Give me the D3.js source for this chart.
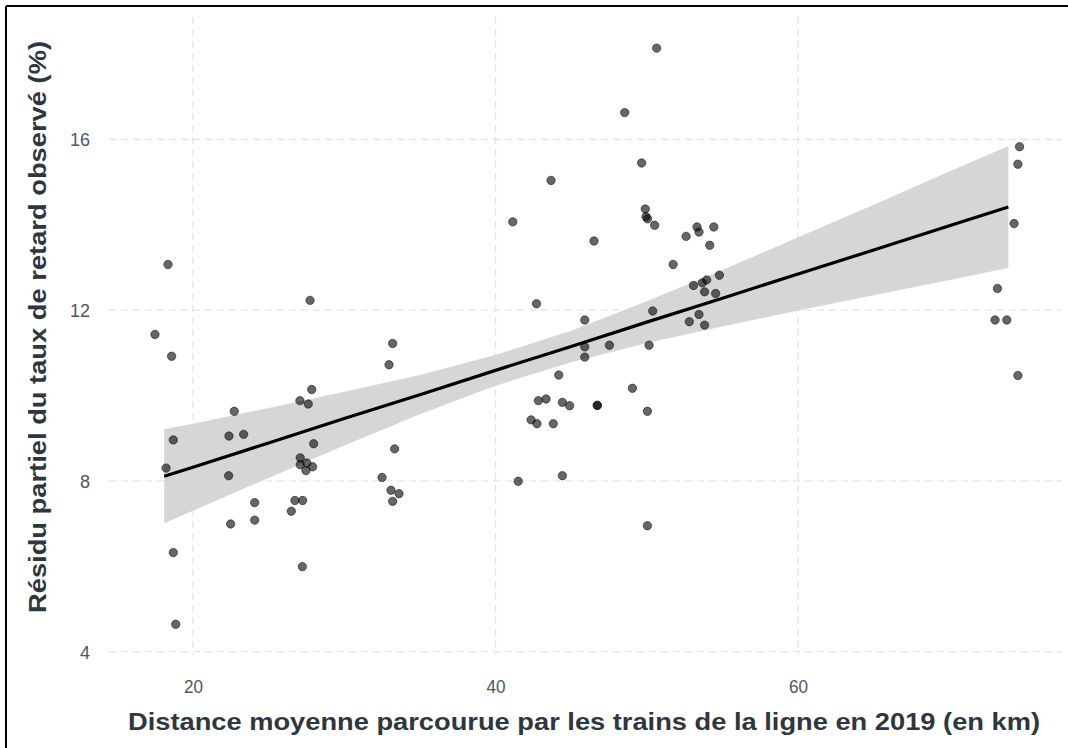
<!DOCTYPE html>
<html>
<head>
<meta charset="utf-8">
<script src="https://cdn.jsdelivr.net/npm/d3@7/dist/d3.min.js"></script>
<style>
  html, body { margin: 0; padding: 0; background: #fff; }
  svg { display: block; }
</style>
</head>
<body>
<svg id="chart" width="1068" height="748"></svg>
<script>
// ---- Data ----
const distanceKm = [
  18.35, 27.74, 17.49, 18.59, 27.85, 27.07, 27.62, 22.73, 18.70, 22.38,
  23.35, 27.98, 18.22, 22.36, 27.09, 27.09, 27.52, 27.91, 27.47, 24.08,
  26.74, 27.25, 26.50, 22.49, 24.08, 18.70, 27.23, 18.86,
  41.14, 46.51, 42.71, 45.90, 33.20, 45.90, 32.96, 45.90, 47.53, 44.18,
  42.83, 43.34, 44.42, 44.90, 46.73, 46.73, 42.35, 42.74, 43.82, 33.33,
  32.50, 41.50, 44.42, 33.09, 33.62, 33.20,
  50.65, 48.54, 49.66, 43.67, 49.90, 49.95, 50.05, 50.52, 53.32, 53.45,
  54.43, 52.60, 54.16, 51.74, 54.80, 53.96, 53.67, 53.09, 53.82, 54.55,
  50.39, 53.45, 52.81, 53.82, 50.15, 49.05, 50.04, 50.04,
  74.64, 74.53, 74.28, 73.18, 73.02, 73.80, 74.53
];
const residuPartiel = [
  13.07, 12.23, 11.43, 10.92, 10.14, 9.88, 9.80, 9.63, 8.96, 9.05,
  9.09, 8.87, 8.30, 8.12, 8.54, 8.38, 8.42, 8.33, 8.24, 7.49,
  7.54, 7.54, 7.29, 6.99, 7.08, 6.32, 5.99, 4.64,
  14.07, 13.62, 12.15, 11.77, 11.22, 11.14, 10.72, 10.90, 11.18, 10.48,
  9.88, 9.92, 9.84, 9.76, 9.77, 9.77, 9.43, 9.34, 9.34, 8.75,
  8.08, 7.99, 8.12, 7.78, 7.70, 7.52,
  18.14, 16.63, 15.45, 15.04, 14.37, 14.19, 14.14, 13.99, 13.95, 13.83,
  13.95, 13.73, 13.52, 13.07, 12.82, 12.71, 12.64, 12.58, 12.43, 12.39,
  11.98, 11.90, 11.73, 11.65, 11.18, 10.17, 9.63, 6.95,
  15.83, 15.42, 14.03, 12.51, 11.77, 11.77, 10.47
];

// Linear fit and its confidence band, read at a few distances
const fitX     = [18.1, 20, 25, 30, 35, 40, 45, 50, 55, 60, 65, 70, 73.9];
const fitY     = [8.11, 8.32, 8.89, 9.46, 10.02, 10.59, 11.15, 11.72, 12.28, 12.85, 13.41, 13.98, 14.42];
const fitLower = [7.01, 7.30, 8.07, 8.83, 9.56, 10.23, 10.78, 11.23, 11.62, 11.99, 12.35, 12.71, 12.99];
const fitUpper = [9.21, 9.34, 9.71, 10.09, 10.48, 10.95, 11.52, 12.21, 12.94, 13.71, 14.47, 15.25, 15.85];

const xTicks = [20, 40, 60];
const yTicks = [4, 8, 12, 16];
const xTitle = "Distance moyenne parcourue par les trains de la ligne en 2019 (en km)";
const yTitle = "Résidu partiel du taux de retard observé (%)";

// ---- Layout ----
const svg = d3.select("#chart");
const panel = { left: 109, right: 1061, top: 17, bottom: 655 };

const x = d3.scaleLinear().domain([14.45, 77.38]).range([panel.left, panel.right]);
const y = d3.scaleLinear().domain([3.92, 18.87]).range([panel.bottom, panel.top]);

const FONT = "'Liberation Sans', Arial, sans-serif";

// Gridlines (dashed)
const grid = svg.append("g").attr("class", "grid");
grid.selectAll("line.vx").data(xTicks).join("line")
  .attr("x1", d => x(d)).attr("x2", d => x(d))
  .attr("y1", panel.top).attr("y2", panel.bottom)
  .attr("stroke", "#e3e3e3").attr("stroke-width", 1.3)
  .attr("stroke-dasharray", "7,5");
grid.selectAll("line.hy").data(yTicks).join("line")
  .attr("x1", panel.left).attr("x2", panel.right)
  .attr("y1", d => y(d)).attr("y2", d => y(d))
  .attr("stroke", "#e3e3e3").attr("stroke-width", 1.3)
  .attr("stroke-dasharray", "7,5");

// Confidence band
const bandData = fitX.map((d, i) => ({ x: d, lo: fitLower[i], hi: fitUpper[i], y: fitY[i] }));
svg.append("path")
  .datum(bandData)
  .attr("d", d3.area().x(d => x(d.x)).y0(d => y(d.lo)).y1(d => y(d.hi)))
  .attr("fill", "#d6d6d6");

// Points
const pts = distanceKm.map((d, i) => ({ x: d, y: residuPartiel[i] }));
svg.append("g").selectAll("circle").data(pts).join("circle")
  .attr("cx", d => x(d.x)).attr("cy", d => y(d.y)).attr("r", 4.2)
  .attr("fill", "rgba(0,0,0,0.6)")
  .attr("stroke", "rgba(0,0,0,0.55)").attr("stroke-width", 0.9);

// Fit line
svg.append("path")
  .datum(bandData)
  .attr("d", d3.line().x(d => x(d.x)).y(d => y(d.y)))
  .attr("fill", "none").attr("stroke", "#000").attr("stroke-width", 3.2);

// Axes (labels only, no domain/ticks)
const xAxis = d3.axisBottom(x).tickValues(xTicks).tickSize(0).tickPadding(0).tickFormat(d3.format("d"));
const gx = svg.append("g").attr("transform", `translate(0,${panel.bottom + 25})`).call(xAxis);
gx.select(".domain").remove();
gx.selectAll("text").attr("font-family", FONT)
  .attr("font-size", 18).attr("fill", "#4d5661")
  .attr("textLength", 19).attr("lengthAdjust", "spacingAndGlyphs");

const yAxis = d3.axisLeft(y).tickValues(yTicks).tickSize(0).tickPadding(0).tickFormat(d3.format("d"));
const gy = svg.append("g").attr("transform", `translate(${panel.left - 19},0)`).call(yAxis);
gy.select(".domain").remove();
gy.selectAll("text").attr("font-family", FONT)
  .attr("font-size", 18).attr("fill", "#4d5661")
  .attr("dy", "0.36em");

// Axis titles
svg.append("text")
  .attr("x", (panel.left + panel.right) / 2 - 1).attr("y", 730)
  .attr("text-anchor", "middle")
  .attr("font-family", FONT)
  .attr("font-weight", "bold").attr("font-size", 24)
  .attr("fill", "#2e3640")
  .attr("textLength", 912).attr("lengthAdjust", "spacingAndGlyphs")
  .text(xTitle);

svg.append("text")
  .attr("transform", `translate(46,${(panel.top + panel.bottom) / 2 - 9}) rotate(-90)`)
  .attr("text-anchor", "middle")
  .attr("font-family", FONT)
  .attr("font-weight", "bold").attr("font-size", 24)
  .attr("fill", "#2e3640")
  .attr("textLength", 572).attr("lengthAdjust", "spacingAndGlyphs")
  .text(yTitle);

// Frame (top and left edges)
svg.append("line").attr("x1", 6).attr("x2", 1068).attr("y1", 6).attr("y2", 6)
  .attr("stroke", "#000").attr("stroke-width", 2);
svg.append("line").attr("x1", 6).attr("x2", 6).attr("y1", 6).attr("y2", 748)
  .attr("stroke", "#000").attr("stroke-width", 2);
</script>
</body>
</html>
